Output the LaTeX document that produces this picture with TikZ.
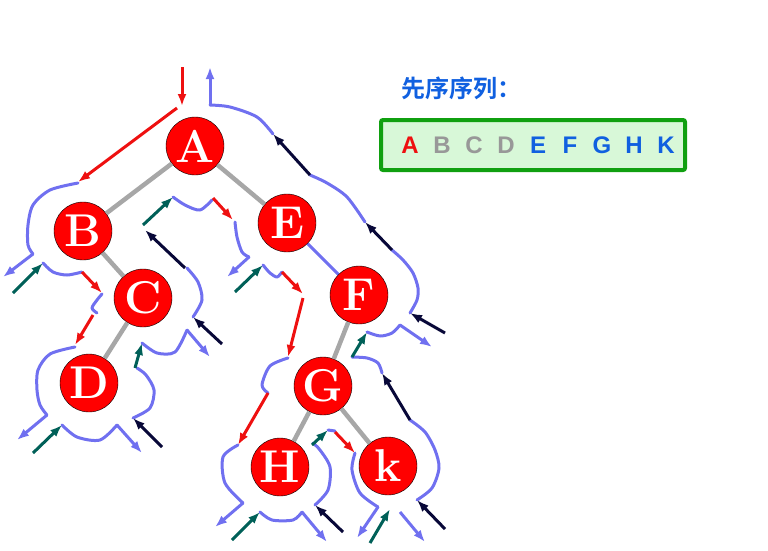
\documentclass[tikz,border=0pt]{standalone}
\usepackage{fontspec}
\usepackage{xcolor}
\usetikzlibrary{arrows.meta}
\newfontfamily\cjk{Noto Sans CJK SC}[BoldFont={Noto Sans CJK SC Bold}]
\newfontfamily\letra{Liberation Sans}

\definecolor{lila}{RGB}{112,112,240}
\definecolor{rojo}{RGB}{238,16,16}
\definecolor{azulosc}{RGB}{8,8,56}
\definecolor{verdeosc}{RGB}{0,96,88}
\definecolor{azul}{RGB}{16,96,224}
\definecolor{gris}{RGB}{152,152,152}
\definecolor{verde}{RGB}{16,160,16}
\definecolor{verdeclaro}{RGB}{216,248,216}

\tikzset{
  nodo/.style={circle, fill=red, draw=black, thin, minimum size=58pt, inner sep=0pt,
    text=white, font=\fontsize{46}{46}\selectfont\bfseries},
  rama/.style={line width=4.5pt, draw=gris!85},
  contorno/.style={line width=3pt, draw=lila, line cap=round, line join=round},
  flecha/.style={line width=3pt, -{Latex[length=12pt,width=9pt]}},
  baja/.style={flecha, draw=rojo, fill=rojo},
  sube/.style={flecha, draw=azulosc, fill=azulosc},
  vuelve/.style={flecha, draw=verdeosc, fill=verdeosc},
  sale/.style={flecha, draw=lila, fill=lila}
}

\begin{document}
\begin{tikzpicture}[x=1pt, y=-1pt]
        \useasboundingbox (0,0) rectangle (768,550);

        % Nodos del árbol
        \node[nodo] (A) at (195,146) {A};
        \node[nodo] (B) at (83,231) {B};
        \node[nodo] (C) at (143,298) {C};
        \node[nodo] (D) at (89,383) {D};
        \node[nodo] (E) at (287,223) {E};
        \node[nodo] (F) at (359,295) {F};
        \node[nodo] (G) at (323,386) {G};
        \node[nodo] (H) at (280,467) {H};
        \node[nodo] (k) at (388,466) {k};

        % Ramas
        \draw[rama] (A) -- (B);
        \draw[rama] (A) -- (E);
        \draw[rama] (B) -- (C);
        \draw[rama] (C) -- (D);
        \draw[rama, draw=lila, line width=3pt] (E) -- (F);
        \draw[rama] (F) -- (G);
        \draw[rama] (G) -- (H);
        \draw[rama] (G) -- (k);

        % Contorno del recorrido
        \draw[contorno] plot[smooth] coordinates {(78,183) (50,190) (33,205) (28,225) (28,245) (33,254)};
        \draw[contorno] plot[smooth] coordinates {(43,263) (53,272) (67,275) (82,272)};
        \draw[contorno] plot[smooth] coordinates {(102,294) (97,300) (92,308) (97,313)};
        \draw[contorno] plot[smooth] coordinates {(75,347) (50,354) (38,370) (37,390) (40,405) (47,415)};
        \draw[contorno] plot[smooth] coordinates {(62,425) (77,437) (100,440) (117,425)};
        \draw[contorno] plot[smooth] coordinates {(133,418) (150,408) (154,390) (146,375) (137,368)};
        \draw[contorno] plot[smooth] coordinates {(142,343) (157,353) (175,352) (187,330)};
        \draw[contorno] plot[smooth] coordinates {(193,317) (202,300) (198,282) (187,268)};
        \draw[contorno] plot[smooth] coordinates {(173,197) (185,205) (200,210) (212,200)};
        \draw[contorno] plot[smooth] coordinates {(235,222) (237,237) (242,252) (249,257)};
        \draw[contorno] plot[smooth] coordinates {(263,265) (270,273) (277,277) (282,272)};
        \draw[contorno] plot[smooth] coordinates {(288,358) (270,366) (262,385) (268,393)};
        \draw[contorno] plot[smooth] coordinates {(238,445) (223,457) (225,483) (243,503)};
        \draw[contorno] plot[smooth] coordinates {(260,512) (272,520) (293,520) (302,512)};
        \draw[contorno] plot[smooth] coordinates {(315,505) (328,490) (330,467) (320,450) (313,443)};
        \draw[contorno] (328,430) -- (335,431);
        \draw[contorno] plot[smooth] coordinates {(355,453) (352,470) (360,493) (378,507)};
        \draw[contorno] plot[smooth] coordinates {(417,500) (432,488) (439,468) (435,450) (425,432) (410,420)};
        \draw[contorno] plot[smooth] coordinates {(382,373) (378,363) (367,358) (352,357)};
        \draw[contorno] plot[smooth] coordinates {(367,332) (380,336) (392,333) (400,325)};
        \draw[contorno] plot[smooth] coordinates {(410,313) (417,300) (418,288) (413,273) (403,260) (392,250)};
        \draw[contorno] plot[smooth] coordinates {(365,222) (347,197) (327,183) (310,175)};
        \draw[contorno] plot[smooth] coordinates {(273,134) (257,117) (230,107) (210,105)};

        % Bajada a los hijos
        \draw[baja] (182,67) -- (182,106);
        \draw[baja] (177,108) -- (78,182);
        \draw[baja] (82,272) -- (102,293);
        \draw[baja] (93,315) -- (75,345);
        \draw[baja] (213,198) -- (233,220);
        \draw[baja] (282,272) -- (303,294);
        \draw[baja] (303,298) -- (288,357);
        \draw[baja] (268,393) -- (238,445);
        \draw[baja] (335,432) -- (355,453);

        % Salidas a hijos vacíos
        \draw[sale] (33,254) -- (3,277);
        \draw[sale] (47,415) -- (17,440);
        \draw[sale] (117,425) -- (142,453);
        \draw[sale] (187,330) -- (210,357);
        \draw[sale] (249,257) -- (227,277);
        \draw[sale] (243,503) -- (215,527);
        \draw[sale] (302,512) -- (327,542);
        \draw[sale] (378,507) -- (357,538);
        \draw[sale] (400,512) -- (425,542);
        \draw[sale] (400,325) -- (432,347);
        \draw[sale] (210,105) -- (210,67);

        % Vuelta desde hijos vacíos
        \draw[vuelve] (13,293) -- (43,263);
        \draw[vuelve] (33,453) -- (62,425);
        \draw[vuelve] (135,368) -- (142,343);
        \draw[vuelve] (143,225) -- (173,197);
        \draw[vuelve] (235,292) -- (263,265);
        \draw[vuelve] (232,540) -- (260,512);
        \draw[vuelve] (312,445) -- (328,430);
        \draw[vuelve] (370,543) -- (390,509);
        \draw[vuelve] (352,357) -- (367,332);

        % Subida al padre
        \draw[sube] (222,344) -- (193,317);
        \draw[sube] (185,268) -- (145,230);
        \draw[sube] (162,447) -- (133,418);
        \draw[sube] (343,532) -- (315,505);
        \draw[sube] (445,529) -- (417,500);
        \draw[sube] (410,420) -- (382,373);
        \draw[sube] (445,333) -- (410,313);
        \draw[sube] (392,250) -- (365,222);
        \draw[sube] (310,175) -- (273,134);

        % Secuencia
        \node[anchor=west, text=azul, font=\cjk\bfseries\fontsize{24}{24}\selectfont] (titulo) at (398,88) {先序序列：};
        \node[draw=verde, line width=4pt, fill=verdeclaro, rounded corners=2pt,
              minimum width=304pt, minimum height=50pt, inner sep=0pt] (caja) at (533,145) {};
        \foreach \l/\c [count=\i from 0] in {A/rojo, B/gris, C/gris, D/gris, E/azul, F/azul, G/azul, H/azul, K/azul}
            \node[text=\c, font=\letra\bfseries\fontsize{24}{24}\selectfont] (s\i) at (410+32*\i,145) {\l};

    \end{tikzpicture}
\end{document}
